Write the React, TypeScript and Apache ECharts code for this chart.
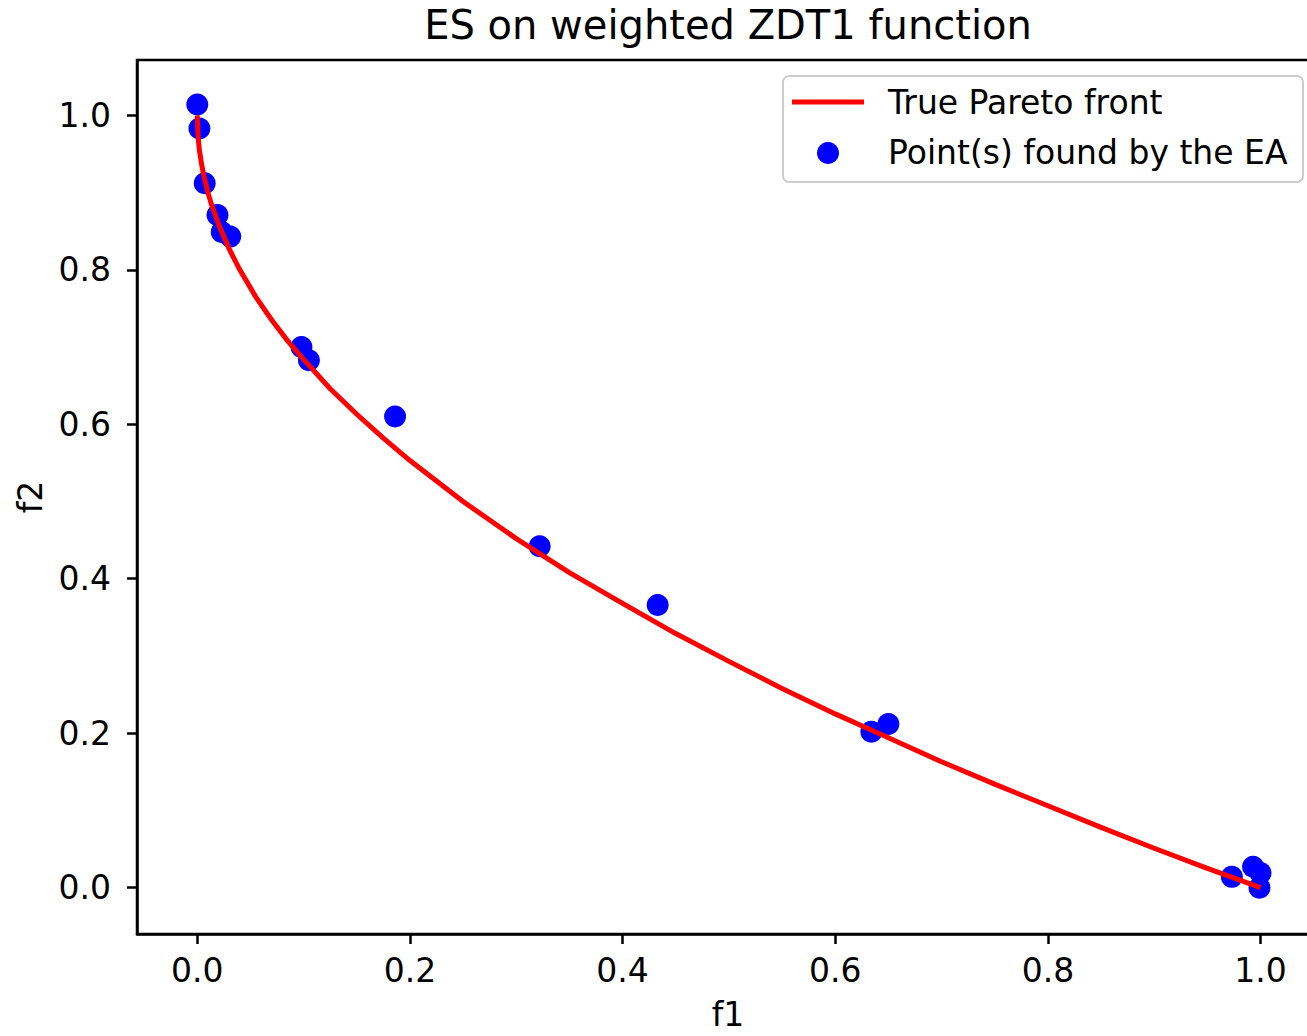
import React, { useEffect, useRef } from "react";
import * as echarts from "echarts";

const titleText = "ES on weighted ZDT1 function";
const xName = "f1";
const yName = "f2";
const lineName = "True Pareto front";
const pointName = "Point(s) found by the EA";

const tickValues = [0, 0.2, 0.4, 0.6, 0.8, 1.0];

// True Pareto front
const frontF1 = [0, 0.0005, 0.001, 0.002, 0.004, 0.006, 0.01, 0.013, 0.02, 0.03, 0.04, 0.055, 0.07, 0.085, 0.1, 0.125, 0.15, 0.175, 0.2, 0.25, 0.3, 0.35, 0.4, 0.45, 0.5, 0.55, 0.6, 0.65, 0.7, 0.75, 0.8, 0.85, 0.9, 0.95, 1.0];
const frontF2 = [1.0, 0.978, 0.968, 0.955, 0.937, 0.923, 0.9, 0.886, 0.859, 0.827, 0.8, 0.765, 0.735, 0.708, 0.684, 0.646, 0.613, 0.582, 0.553, 0.5, 0.452, 0.408, 0.368, 0.329, 0.293, 0.258, 0.225, 0.194, 0.163, 0.134, 0.106, 0.078, 0.051, 0.025, 0.0];

// Points found by the EA
const eaF1 = [0.0, 0.002, 0.007, 0.019, 0.023, 0.031, 0.098, 0.105, 0.186, 0.322, 0.433, 0.634, 0.65, 0.973, 0.993, 1.0, 0.999];
const eaF2 = [1.014, 0.983, 0.912, 0.871, 0.849, 0.843, 0.7, 0.683, 0.61, 0.442, 0.366, 0.202, 0.212, 0.014, 0.027, 0.019, 0.0];

const FONT = "DejaVu Sans";

export default function App() {
  const ref = useRef<HTMLDivElement>(null);
  useEffect(() => {
    if (!ref.current) return;
    const chart = echarts.init(ref.current, null, { renderer: "svg" });
    const fmt = (v: number) => v.toFixed(1);
    const axisCommon = {
      type: "value" as const,
      splitLine: { show: false },
      axisLine: { show: true, onZero: false, lineStyle: { color: "#000", width: 2.5 } },
      axisTick: { show: true, customValues: tickValues, length: 10, lineStyle: { color: "#000", width: 2.5 } },
      nameLocation: "middle" as const,
      nameTextStyle: { fontFamily: FONT, fontSize: 33, color: "#000" },
    };
    chart.setOption({
      animation: false,
      backgroundColor: "#fff",
      title: {
        text: titleText,
        left: 728,
        textAlign: "center",
        top: 5,
        padding: 0,
        textStyle: { fontFamily: FONT, fontSize: 40, fontWeight: "normal", color: "#000" },
      },
      grid: {
        left: 137,
        top: 60,
        width: 1182,
        height: 879,
        show: true,
        borderColor: "#000",
        borderWidth: 2.5,
        backgroundColor: "transparent",
      },
      xAxis: {
        ...axisCommon,
        min: -0.0567,
        max: 1.055,
        name: xName,
        nameGap: 64,
        axisLabel: { customValues: tickValues, formatter: fmt, fontFamily: FONT, fontSize: 33, color: "#000", margin: 20 },
      },
      yAxis: {
        ...axisCommon,
        min: -0.06,
        max: 1.0717,
        name: yName,
        nameGap: 90,
        axisLabel: { customValues: tickValues, formatter: fmt, fontFamily: FONT, fontSize: 33, color: "#000", margin: 26 },
      },
      series: [
        {
          name: lineName,
          type: "line",
          data: frontF1.map((x, i) => [x, frontF2[i]]),
          showSymbol: false,
          symbol: "none",
          smooth: false,
          lineStyle: { color: "#ff0000", width: 5, join: "round" },
          z: 3,
        },
        {
          name: pointName,
          type: "scatter",
          data: eaF1.map((x, i) => [x, eaF2[i]]),
          symbol: "circle",
          symbolSize: 22,
          itemStyle: { color: "#0000ff", opacity: 1 },
          z: 2,
        },
      ],
      graphic: [
        {
          type: "rect",
          shape: { x: 783, y: 76, width: 520, height: 106, r: 6 },
          style: { fill: "rgba(255,255,255,0.8)", stroke: "#cccccc", lineWidth: 2 },
          z: 10,
        },
        {
          type: "line",
          shape: { x1: 792, y1: 102, x2: 864, y2: 102 },
          style: { stroke: "#ff0000", lineWidth: 5 },
          z: 11,
        },
        {
          type: "circle",
          shape: { cx: 828, cy: 153, r: 11 },
          style: { fill: "#0000ff" },
          z: 11,
        },
        {
          type: "text",
          x: 888,
          y: 102,
          style: { text: lineName, fontFamily: FONT, fontSize: 33, fill: "#000", verticalAlign: "middle", align: "left" },
          z: 11,
        },
        {
          type: "text",
          x: 888,
          y: 152,
          style: { text: pointName, fontFamily: FONT, fontSize: 33, fill: "#000", verticalAlign: "middle", align: "left" },
          z: 11,
        },
      ],
    });
    return () => chart.dispose();
  }, []);
  return (
    <div style={{ position: "absolute", left: 0, top: 0, width: 1307, height: 1036, overflow: "hidden", background: "#fff" }}>
      <div ref={ref} style={{ width: 1340, height: 1036 }} />
    </div>
  );
}
